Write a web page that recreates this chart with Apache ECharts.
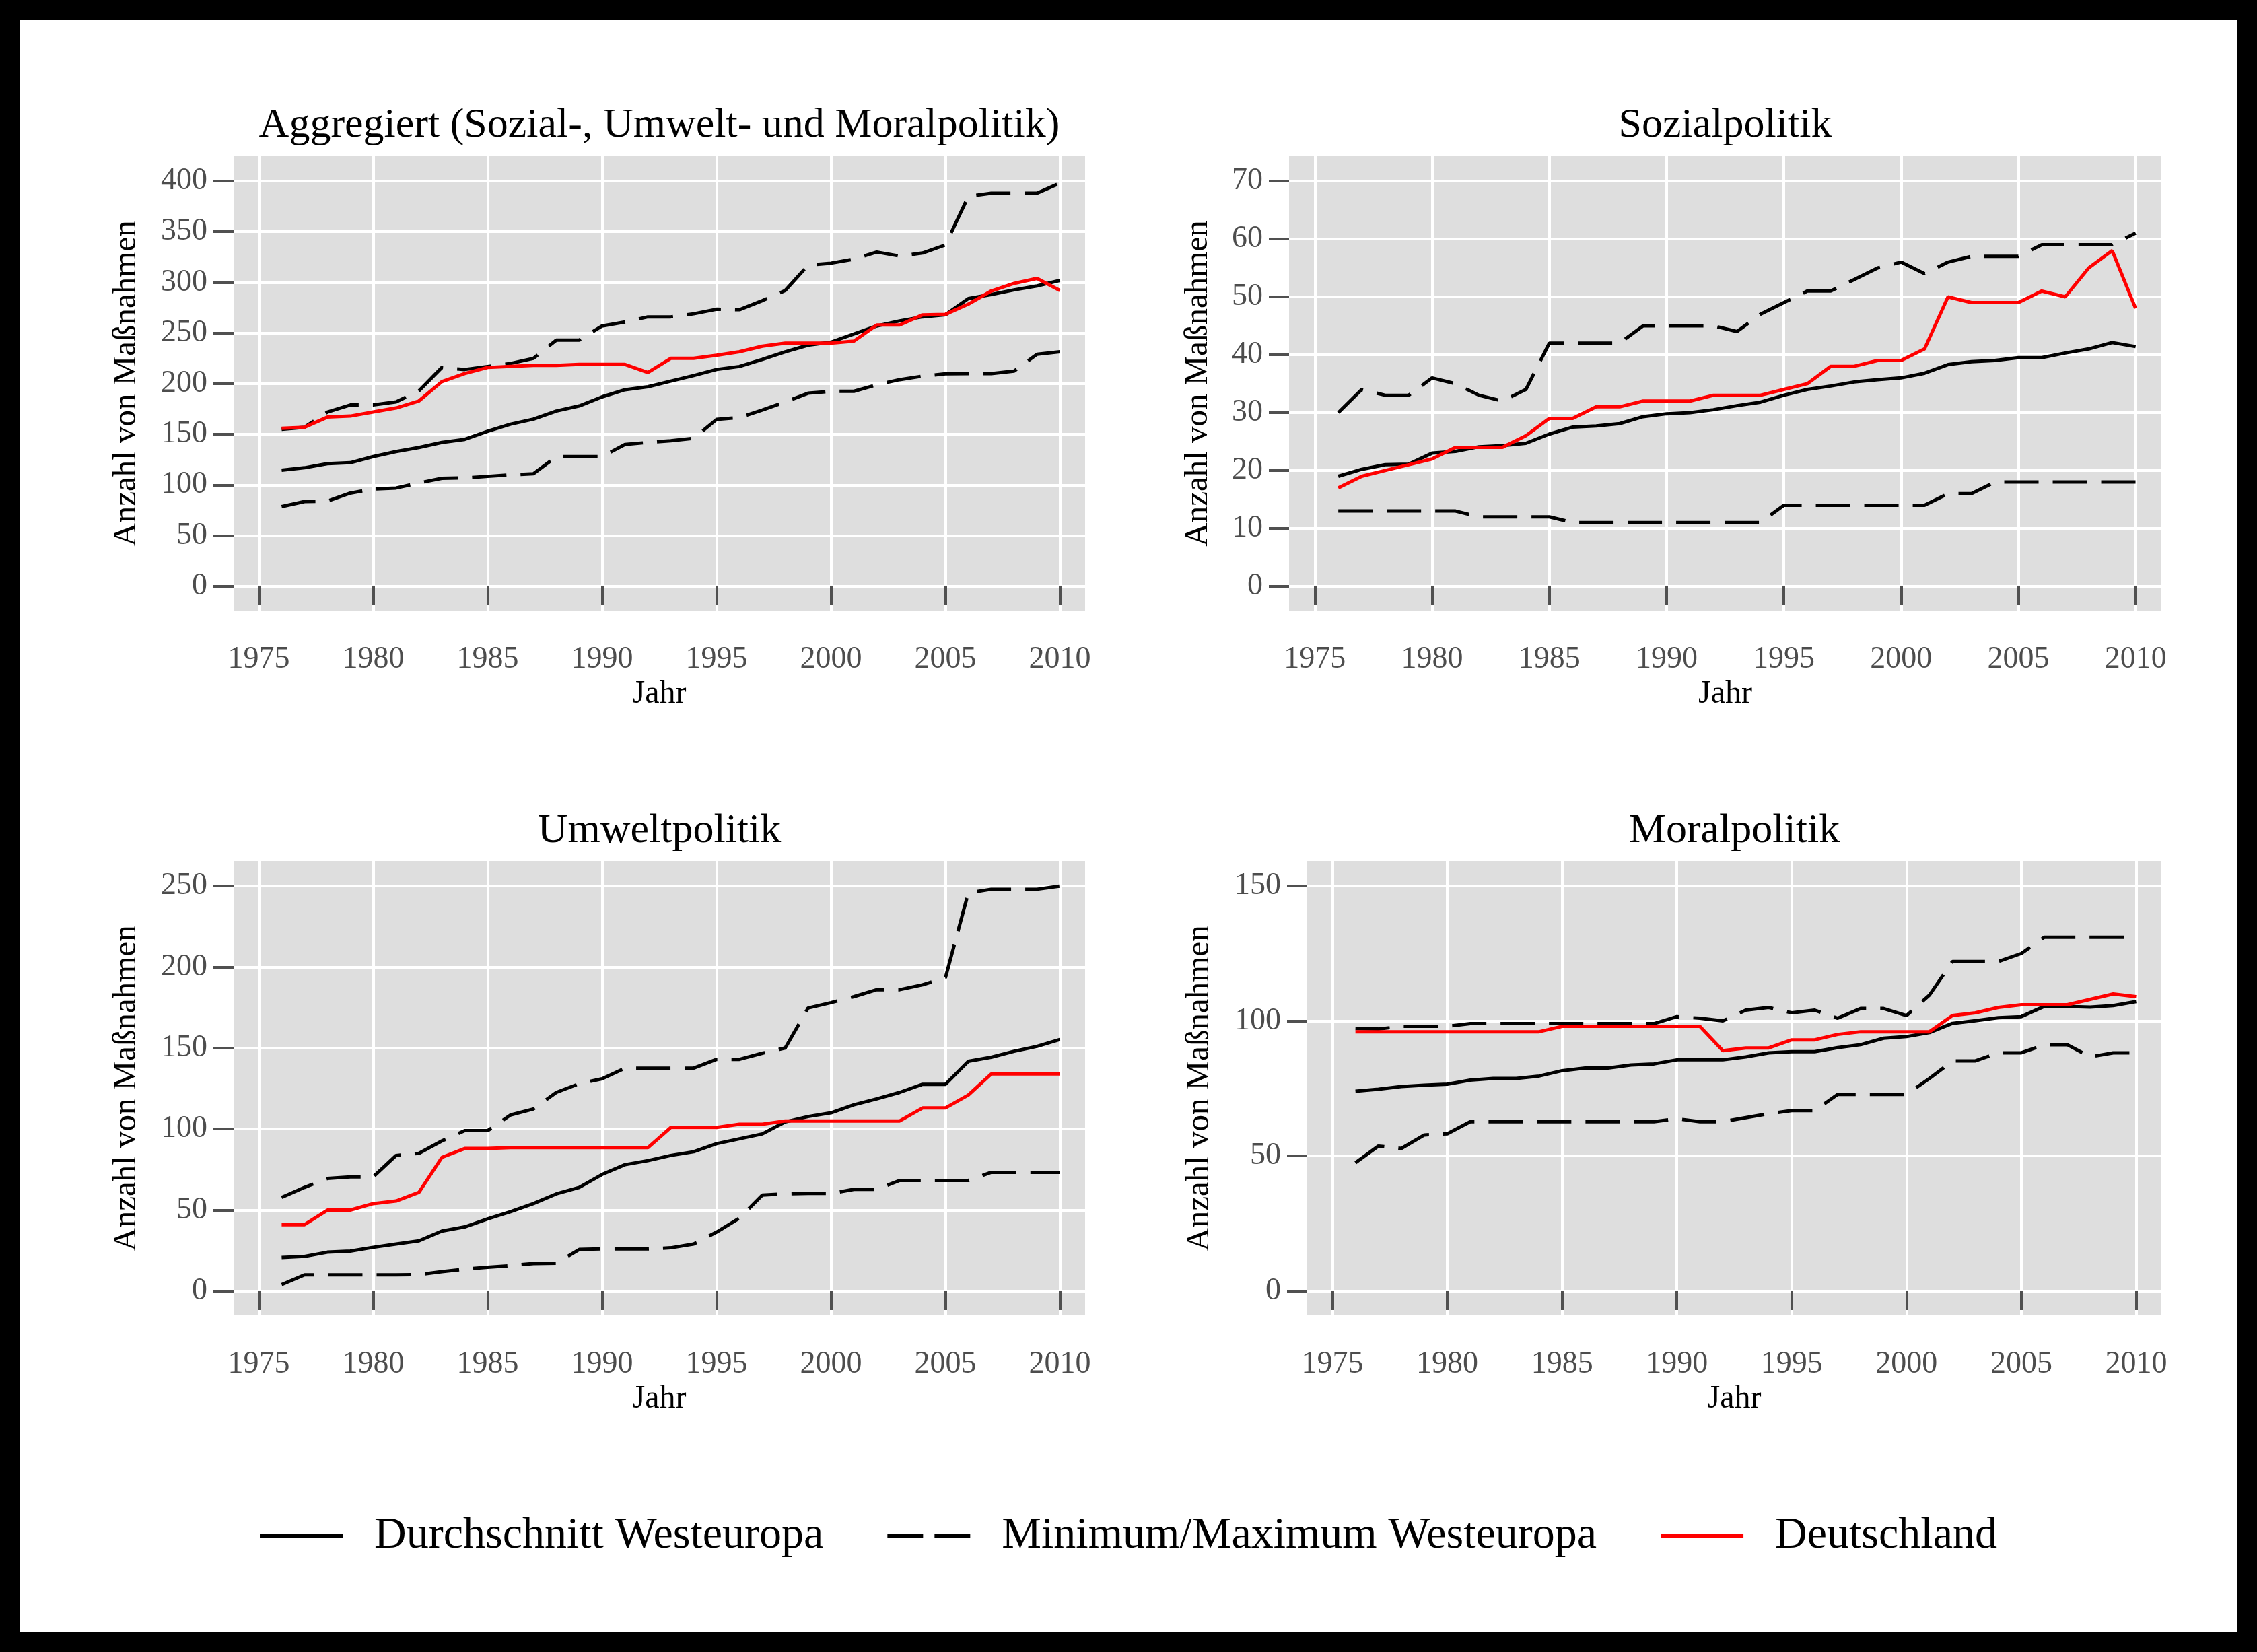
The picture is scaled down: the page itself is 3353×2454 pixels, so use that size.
<!DOCTYPE html>
<html>
<head>
<meta charset="utf-8">
<script src="https://cdn.jsdelivr.net/npm/echarts@6.0.0/dist/echarts.min.js"></script>
<style>
html, body { margin: 0; padding: 0; background: #000; }
#chart { width: 3353px; height: 2454px; background: #fff; box-shadow: inset 0 0 0 29px #000; }
</style>
</head>
<body>
<div id="chart"></div>
<script>
'use strict';
// Jahre
var years = [1976, 1977, 1978, 1979, 1980, 1981, 1982, 1983, 1984, 1985,
             1986, 1987, 1988, 1989, 1990, 1991, 1992, 1993, 1994, 1995,
             1996, 1997, 1998, 1999, 2000, 2001, 2002, 2003, 2004, 2005,
             2006, 2007, 2008, 2009, 2010];
var xTicks = [1975, 1980, 1985, 1990, 1995, 2000, 2005, 2010];

var seriesNames = ['Durchschnitt Westeuropa', 'Minimum/Maximum Westeuropa', 'Deutschland'];
var titles = ['Aggregiert (Sozial-, Umwelt- und Moralpolitik)', 'Sozialpolitik', 'Umweltpolitik', 'Moralpolitik'];

// Aggregiert
var aggTicks = [0, 50, 100, 150, 200, 250, 300, 350, 400];
var aggMean = [114.6, 117, 121, 122, 128, 133, 137, 142, 145, 153,
               160, 165, 173, 178, 187, 194, 197, 202.5, 208, 214,
               217, 224, 231.5, 238, 241, 249, 257, 262, 266, 268,
               284, 288, 292.6, 296.5, 302];
var aggMin = [78.7, 83.7, 84, 92, 96, 97, 102, 106.6, 107, 108.5,
              110, 111, 128, 128, 128, 140, 142, 143.6, 146, 164.7,
              166.6, 174, 182, 190.6, 192.5, 192.5, 199, 204, 207.5, 209.7,
              210, 210, 212.4, 229, 231.5];
var aggMax = [155, 157, 172, 179, 179, 182, 193, 216, 214, 217,
              220, 225, 243, 243, 257, 261, 266, 266, 269, 273.5,
              273, 282, 292, 317, 319, 323, 330, 326, 329, 337,
              385, 388, 388, 388, 398];
var aggDE = [156, 157, 167, 168, 172, 176, 183, 202, 210, 216,
             217, 218, 218, 219, 219, 219, 211, 225, 225, 228,
             231.5, 237, 240, 240, 240, 242, 258, 258, 268, 268.5,
             278.5, 291.5, 299, 304, 292];

// Sozialpolitik
var sozTicks = [0, 10, 20, 30, 40, 50, 60, 70];
var sozMean = [19, 20.2, 21, 21.1, 23, 23.3, 24.1, 24.3, 24.7, 26.3,
               27.5, 27.7, 28.1, 29.3, 29.8, 30, 30.5, 31.2, 31.8, 33,
               34, 34.6, 35.3, 35.7, 36, 36.8, 38.3, 38.8, 39, 39.5,
               39.5, 40.3, 41, 42.1, 41.4];
var sozMin = [13, 13, 13, 13, 13, 13, 12, 12, 12, 12,
              11, 11, 11, 11, 11, 11, 11, 11, 11, 14,
              14, 14, 14, 14, 14, 14, 16, 16, 18, 18,
              18, 18, 18, 18, 18];
var sozMax = [30, 34, 33, 33, 36, 35, 33, 32, 34, 42,
              42, 42, 42, 45, 45, 45, 45, 44, 47, 49,
              51, 51, 53, 55, 56, 54, 56, 57, 57, 57,
              59, 59, 59, 59, 61];
var sozDE = [17, 19, 20, 21, 22, 24, 24, 24, 26, 29,
             29, 31, 31, 32, 32, 32, 33, 33, 33, 34,
             35, 38, 38, 39, 39, 41, 50, 49, 49, 49,
             51, 50, 55, 58, 48];

// Umweltpolitik
var umwTicks = [0, 50, 100, 150, 200, 250];
var umwMean = [20.7, 21.4, 24, 24.7, 27, 29, 31, 37, 39.6, 44.6,
               49, 54, 60, 64, 72, 78, 80.5, 83.7, 86, 91,
               94, 97, 104.4, 107.7, 110, 115, 118.6, 122.6, 127.6, 127.6,
               141.8, 144.3, 148, 151, 155.3];
var umwMin = [4, 10, 10, 10, 10, 10, 10.2, 12, 13.5, 14.7,
              15.7, 17, 17.2, 25.7, 26, 26, 26, 26.7, 29, 36.4,
              45, 59.3, 60, 60.3, 60.3, 62.8, 62.8, 68.3, 68.3, 68.3,
              68.3, 73.3, 73.3, 73.3, 73.3];
var umwMax = [57.8, 64, 69.5, 70.5, 70.5, 83.7, 85, 92.7, 99, 99,
              108.7, 112.4, 122.6, 128, 131, 137.6, 137.6, 137.6, 137.6, 143,
              143, 146.8, 150, 174.7, 178, 181.7, 186, 186, 189, 193.4,
              245.8, 248, 248, 248, 250];
var umwDE = [41, 41, 50, 50, 54, 55.6, 61, 82.5, 88, 88,
             88.5, 88.5, 88.5, 88.5, 88.5, 88.5, 88.5, 101, 101, 101,
             103, 103, 105, 105, 105, 105, 105, 105, 113, 113,
             121, 134, 134, 134, 134];

// Moralpolitik
var morTicks = [0, 50, 100, 150];
var morMean = [74, 74.7, 75.7, 76.2, 76.6, 78.1, 78.7, 78.7, 79.6, 81.6,
               82.6, 82.6, 83.7, 84.1, 85.6, 85.6, 85.6, 86.7, 88.2, 88.6,
               88.6, 90.1, 91.2, 93.6, 94.2, 95.7, 99.1, 100.1, 101.2, 101.6,
               105.4, 105.4, 105.1, 105.7, 107.2];
var morMin = [47.5, 53.7, 52.8, 57.8, 58.2, 62.7, 62.7, 62.7, 62.7, 62.7,
              62.7, 62.7, 62.7, 62.7, 63.8, 62.7, 62.7, 64.2, 65.7, 66.8,
              66.8, 72.8, 72.8, 72.8, 72.8, 78.7, 85.2, 85.2, 88.2, 88.2,
              91.2, 91.2, 86.7, 88.2, 88.2];
var morMax = [97.2, 97, 98, 98, 98, 99, 99, 99, 99, 99,
              99, 99, 99, 99, 101.6, 101, 100, 104, 105, 103,
              104, 101, 104.6, 104.6, 102, 109.6, 122, 122, 122, 125,
              131, 131, 131, 131, 131];
var morDE = [96, 96, 96, 96, 96, 96, 96, 96, 96, 98,
             98, 98, 98, 98, 98, 98, 89, 90, 90, 93,
             93, 95, 96, 96, 96, 96, 102, 103, 105, 106,
             106, 106, 108, 110, 109];

// Layout der vier Panels (Pixel)
var panels = [
	{ grid: [347, 232, 1265, 675], yMin: -24, yMax: 424.6, ticks: aggTicks, lines: [aggMean, aggMin, aggMax, aggDE], yTitleX: 188 },
	{ grid: [1915, 232, 1296, 675], yMin: -4.2, yMax: 74.3, ticks: sozTicks, lines: [sozMean, sozMin, sozMax, sozDE], yTitleX: 1780 },
	{ grid: [347, 1279, 1265, 675], yMin: -15, yMax: 265.4, ticks: umwTicks, lines: [umwMean, umwMin, umwMax, umwDE], yTitleX: 188 },
	{ grid: [1942, 1279, 1269, 675], yMin: -9, yMax: 159.2, ticks: morTicks, lines: [morMean, morMin, morMax, morDE], yTitleX: 1782 }
];

var FONT = '"Liberation Serif", "Times New Roman", serif';
var labelColor = '#4d4d4d';
var tickColor = '#505050';
var dash = [51, 21];

function pairs(arr) {
	return years.map(function (y, i) { return [y, arr[i]]; });
}

function plain(v) {
	return String(v);
}

function textEl(str, x, y, size, rot) {
	return {
		type: 'text', x: x, y: y, rotation: rot || 0, silent: true,
		style: {
			text: str, font: size + 'px ' + FONT, fill: '#000',
			textAlign: 'center', textVerticalAlign: 'middle',
			align: 'center', verticalAlign: 'middle'
		}
	};
}

var grids = [], xAxes = [], yAxes = [], series = [], graphics = [];

panels.forEach(function (p, i) {
	var g = p.grid;
	var cx = g[0] + g[2] / 2;
	grids.push({
		left: g[0], top: g[1], width: g[2], height: g[3],
		show: true, backgroundColor: '#dedede', borderWidth: 0
	});
	xAxes.push({
		type: 'value', gridIndex: i, min: 1973.9, max: 2011.1,
		axisLine: { show: false },
		axisTick: { show: true, length: 28, customValues: xTicks, lineStyle: { color: tickColor, width: 4 } },
		axisLabel: { customValues: xTicks, formatter: plain, margin: 50, fontSize: 46, fontFamily: FONT, color: labelColor },
		splitLine: { show: true, lineStyle: { color: '#ffffff', width: 4 } }
	});
	yAxes.push({
		type: 'value', gridIndex: i, min: p.yMin, max: p.yMax,
		axisLine: { show: false },
		axisTick: { show: true, length: 30, customValues: p.ticks, lineStyle: { color: tickColor, width: 4 } },
		axisLabel: { customValues: p.ticks, formatter: plain, margin: 39, fontSize: 46, fontFamily: FONT, color: labelColor },
		splitLine: { show: true, lineStyle: { color: '#ffffff', width: 4 } }
	});
	var styles = [
		{ name: seriesNames[0], color: '#000000', type: 'solid' },
		{ name: seriesNames[1], color: '#000000', type: dash },
		{ name: seriesNames[1], color: '#000000', type: dash },
		{ name: seriesNames[2], color: '#ff0000', type: 'solid' }
	];
	p.lines.forEach(function (arr, k) {
		series.push({
			type: 'line', name: styles[k].name, xAxisIndex: i, yAxisIndex: i,
			data: pairs(arr), symbol: 'none', silent: true,
			itemStyle: { color: styles[k].color },
			lineStyle: { color: styles[k].color, width: 5, type: styles[k].type, cap: 'butt' }
		});
	});
	var row = i < 2 ? 0 : 1;
	graphics.push(textEl(titles[i], cx, 187 + row * 1048, 62));
	graphics.push(textEl('Jahr', cx, 1031 + row * 1047, 48));
	graphics.push(textEl('Anzahl von Maßnahmen', p.yTitleX, g[1] + g[3] / 2, 49, Math.PI / 2));
});

// Legendensymbole als Pfade (Linie bzw. zwei Striche)
var solidIcon = 'path://M0,0H123V6H0Z';
var dashIcon = 'path://M0,0H53V6H0Z M70,0H123V6H70Z';

var chart = echarts.init(document.getElementById('chart'), null, { renderer: 'canvas' });
chart.setOption({
	animation: false,
	backgroundColor: 'transparent',
	grid: grids,
	xAxis: xAxes,
	yAxis: yAxes,
	series: series,
	graphic: graphics,
	legend: {
		data: [
			{ name: seriesNames[0], icon: solidIcon },
			{ name: seriesNames[1], icon: dashIcon },
			{ name: seriesNames[2], icon: solidIcon }
		],
		left: 'center', top: 2249, padding: 0,
		itemWidth: 123, itemHeight: 6, itemGap: 95,
		selectedMode: false,
		textStyle: { fontSize: 66, fontFamily: FONT, color: '#000', padding: [0, 0, 0, 42] }
	}
});
</script>
</body>
</html>
